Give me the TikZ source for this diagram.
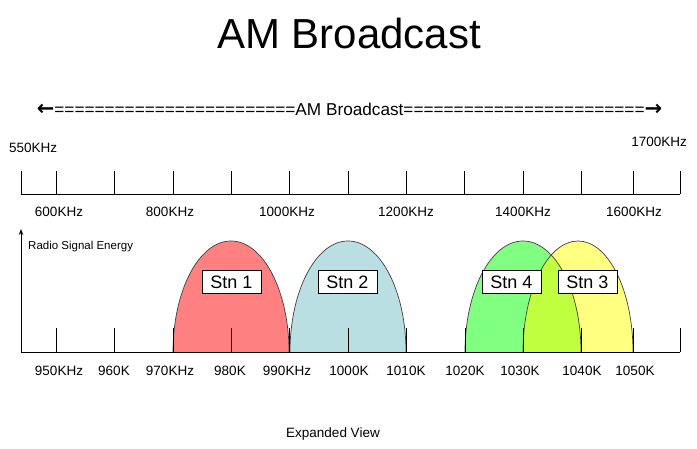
\documentclass[tikz,border=0pt]{standalone}
\usepackage{fontspec}
\setmainfont{Liberation Sans}
\newfontfamily\arrowfont{DejaVu Sans}
\usetikzlibrary{arrows.meta,positioning}
\definecolor{stnred}{RGB}{255,128,128}
\definecolor{stnblue}{RGB}{185,223,227}
\definecolor{stngreen}{RGB}{128,255,128}
\definecolor{stnyellow}{RGB}{255,255,128}
\definecolor{stnmix}{RGB}{192,255,64}
\tikzstyle{axis}=[line width=0.9pt,draw=black]
\tikzstyle{axtick}=[line width=0.9pt,draw=black]
\tikzstyle{freq}=[inner sep=0pt,anchor=base,font=\fontsize{13.5}{16}\selectfont]
\tikzstyle{stnbox}=[draw,line width=0.8pt,fill=white,minimum width=59pt,minimum height=23pt,
                   inner sep=0pt,font=\fontsize{18}{20}\selectfont]
\tikzstyle{arch}=[draw=black!75,line width=0.7pt]
\newcommand{\bandarrow}[1]{{\arrowfont\bfseries\fontsize{21}{22}\selectfont #1}}

\begin{document}
\begin{tikzpicture}[x=1pt,y=-1pt]
  \fill[white] (0,0) rectangle (697,449);
  \useasboundingbox (0,0) rectangle (697,449);

  % title and band line
  \node[inner sep=0pt,anchor=base,font=\fontsize{42}{46}\selectfont] (title) at (349,49) {AM Broadcast};
  \node[inner sep=0pt,anchor=base,font=\fontsize{17.2}{19}\selectfont] (band) at (349.5,115.5)
    {\bandarrow{←}========================AM Broadcast========================\bandarrow{→}};

  % full band axis
  \draw[axis] (21,194) -- (680,194);
  \foreach \x in {21,56,114,173,231,289,348,406,464,523,581,633,680}
    \draw[axtick] (\x,194) -- (\x,171);
  \node[freq,anchor=base west] (f550) at (9,153) {550KHz};
  \node[freq,anchor=base east] (f1700) at (687,147) {1700KHz};
  \foreach \x/\t in {59/600KHz,170/800KHz,287/1000KHz,406/1200KHz,523/1400KHz,634/1600KHz}
    \node[freq] (top\x) at (\x,217) {\t};

  % stations
  \foreach \cx/\rx/\col in {231/58/stnred,348/58/stnblue,523/58/stngreen,578/55/stnyellow}
    \fill[\col] (\cx-\rx,352) arc[start angle=180,end angle=0,x radius=\rx pt,y radius=111pt];
  \begin{scope}
    \clip (465,352) arc[start angle=180,end angle=0,x radius=58pt,y radius=111pt];
    \fill[stnmix] (523,352) arc[start angle=180,end angle=0,x radius=55pt,y radius=111pt];
  \end{scope}
  \foreach \cx/\rx in {231/58,348/58,523/58,578/55}
    \draw[arch] (\cx-\rx,352) arc[start angle=180,end angle=0,x radius=\rx pt,y radius=111pt];

  % expanded axis
  \coordinate (origin) at (21,352);
  \coordinate (ytop) at (21,229);
  \draw[axis,-{Stealth[length=6pt,width=4.5pt]}] (origin) -- (ytop);
  \draw[axis] (origin) -- (680,352);
  \foreach \x in {56,114,173,231,289,348,406,465,523,581,633,680}
    \draw[axtick] (\x,352) -- (\x,328);
  \node[freq,anchor=base west,font=\fontsize{11.5}{13}\selectfont] (energy) at (28,250) {Radio Signal Energy};
  \foreach \x/\t in {59/950KHz,114/960K,170/970KHz,230/980K,287/990KHz,349/1000K,406/1010K,
                     465/1020K,520/1030K,582/1040K,635/1050K}
    \node[freq] (bot\x) at (\x,375.5) {\t};

  \node[stnbox] (stn1) at (231.5,282) {Stn 1};
  \node[stnbox] (stn2) at (347.5,282) {Stn 2};
  \node[stnbox] (stn4) at (511.5,282) {Stn 4};
  \node[stnbox] (stn3) at (587.5,282) {Stn 3};

  \node[freq] (expanded) at (333,438) {Expanded View};
\end{tikzpicture}
\end{document}
